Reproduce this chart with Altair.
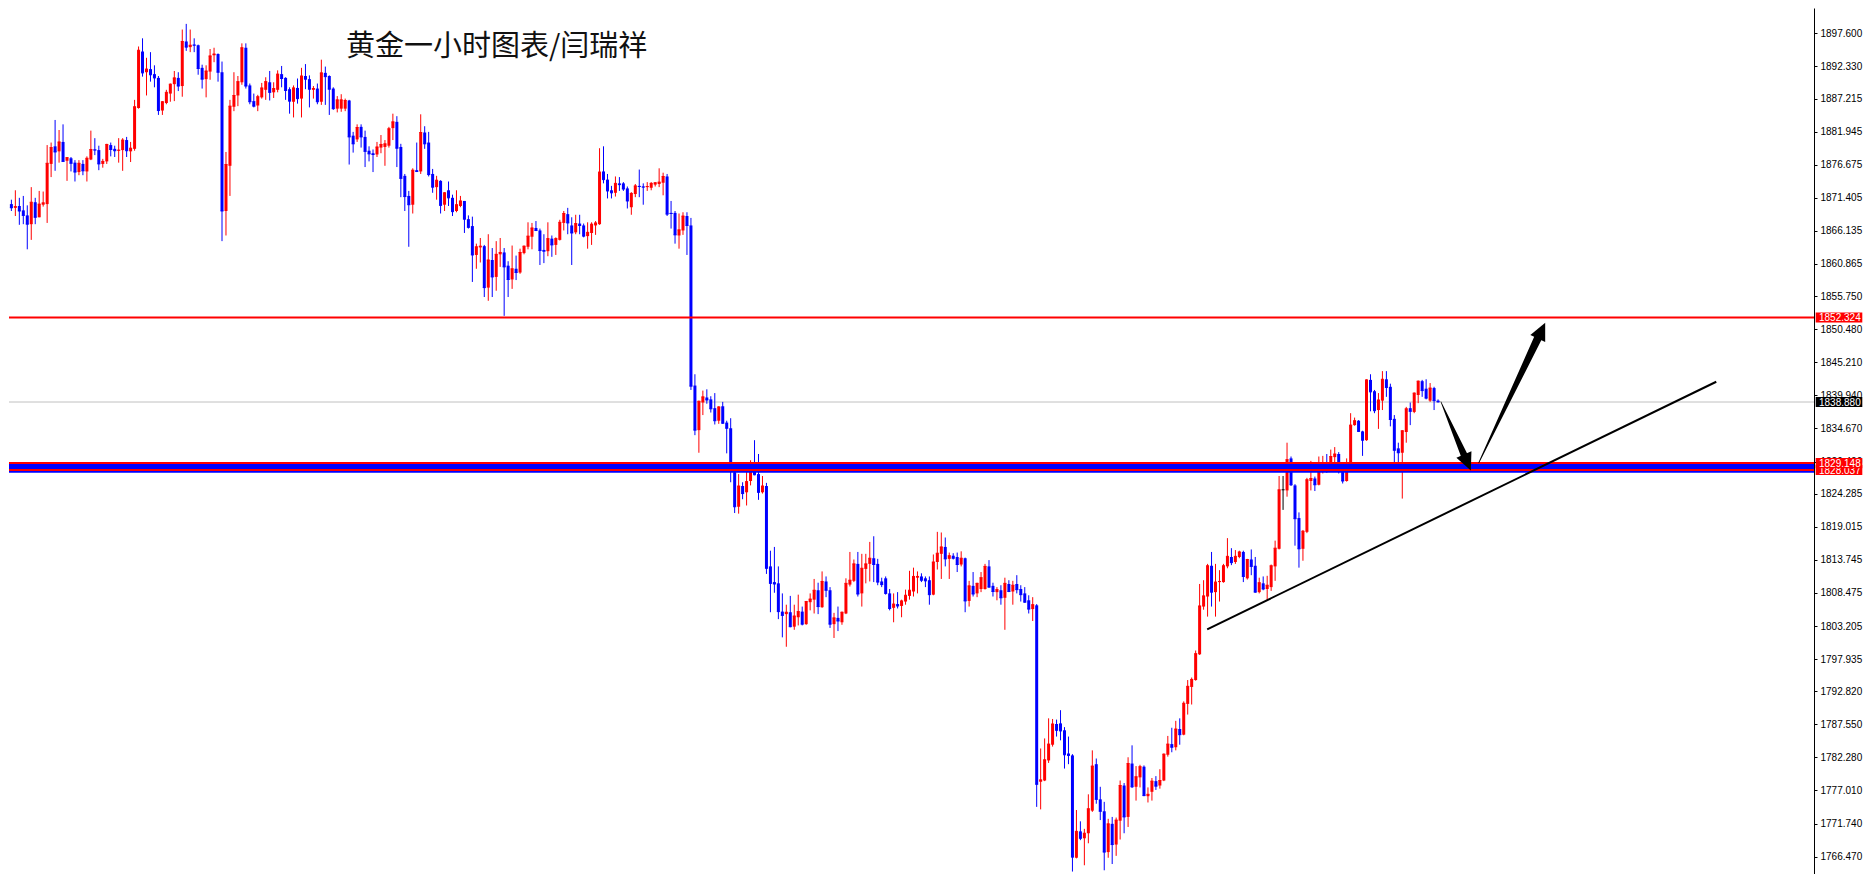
import altair as alt
import pandas as pd

# ---------------- candle data (hourly gold) ----------------
opens = [
    1870.4, 1869.8, 1870.1, 1869.4, 1868.6, 1867.2, 1870.7, 1868.3, 1870.3, 1870.4,
    1876.8, 1879.6, 1878.8, 1880.3, 1877.3, 1877.7, 1877.0, 1875.5, 1876.8, 1875.6,
    1877.5, 1879.1, 1879.0, 1876.8, 1877.2, 1879.8, 1879.2, 1878.9, 1879.0, 1880.6,
    1878.8, 1879.2, 1885.7, 1894.7, 1891.4, 1891.9, 1891.1, 1890.5, 1885.3, 1886.5,
    1888.0, 1889.5, 1890.5, 1889.2, 1896.3, 1895.4, 1895.8, 1895.7, 1892.1, 1890.3,
    1891.5, 1894.1, 1894.3, 1891.4, 1869.3, 1876.5, 1885.9, 1887.7, 1889.8, 1895.3,
    1889.3, 1886.8, 1886.1, 1887.4, 1888.6, 1889.8, 1888.2, 1888.6, 1891.1, 1890.5,
    1888.7, 1886.7, 1888.9, 1887.2, 1890.8, 1890.3, 1888.6, 1888.8, 1886.7, 1891.3,
    1890.8, 1888.8, 1885.6, 1885.6, 1885.6, 1886.9, 1881.3, 1880.7, 1882.7, 1881.1,
    1878.9, 1878.5, 1878.3, 1879.4, 1879.5, 1879.7, 1882.5, 1883.5, 1879.5, 1874.9,
    1871.7, 1870.3, 1875.8, 1875.6, 1881.8, 1880.2, 1875.2, 1873.1, 1874.1, 1870.3,
    1872.6, 1871.4, 1869.3, 1870.1, 1870.9, 1868.0, 1866.9, 1862.3, 1863.5, 1863.7,
    1857.1, 1861.5, 1858.8, 1862.4, 1862.7, 1860.6, 1858.4, 1860.1, 1859.5, 1862.6,
    1863.6, 1865.2, 1866.6, 1866.2, 1863.1, 1862.9, 1864.9, 1863.9, 1864.7, 1867.4,
    1868.8, 1867.0, 1865.9, 1867.3, 1867.0, 1865.3, 1865.8, 1867.0, 1867.2, 1875.6,
    1874.3, 1872.6, 1872.2, 1873.7, 1873.7, 1872.9, 1869.9, 1872.0, 1873.3, 1873.2,
    1873.1, 1873.0, 1873.5, 1873.6, 1873.8, 1874.8, 1869.0, 1869.0, 1865.4, 1866.2,
    1868.5, 1867.0, 1841.5, 1834.4, 1838.8, 1839.6, 1839.3, 1837.9, 1835.9, 1838.2,
    1835.6, 1834.7, 1827.7, 1822.2, 1825.5, 1824.5, 1826.3, 1828.4, 1827.4, 1824.5,
    1825.5, 1812.7, 1810.2, 1810.0, 1805.5, 1805.1, 1805.4, 1803.1, 1804.6, 1805.5,
    1803.5, 1807.0, 1807.4, 1808.9, 1806.2, 1810.3, 1808.9, 1803.5, 1804.5, 1803.8,
    1805.2, 1809.8, 1810.4, 1813.1, 1808.4, 1812.3, 1813.1, 1814.0, 1813.1, 1810.3,
    1810.8, 1808.4, 1806.1, 1806.7, 1806.4, 1807.1, 1808.0, 1808.7, 1810.9, 1811.1,
    1810.8, 1810.5, 1808.2, 1813.4, 1814.7, 1815.8, 1813.9, 1814.4, 1814.2, 1813.0,
    1814.0, 1807.2, 1809.6, 1808.4, 1809.1, 1809.1, 1812.7, 1809.6, 1808.6, 1808.9,
    1807.7, 1809.9, 1808.7, 1809.9, 1809.1, 1808.4, 1807.3, 1805.9, 1806.5, 1778.4,
    1778.6, 1781.8, 1784.3, 1787.6, 1787.7, 1786.6, 1782.9, 1782.6, 1766.3, 1770.5,
    1769.4, 1770.2, 1773.8, 1781.2, 1775.6, 1773.7, 1767.2, 1771.7, 1768.4, 1772.2,
    1777.8, 1772.8, 1781.3, 1777.6, 1779.1, 1780.8, 1776.1, 1776.8, 1778.5, 1777.8,
    1778.6, 1782.7, 1784.4, 1783.9, 1786.8, 1785.9, 1790.8, 1793.5, 1794.6, 1798.7,
    1806.3, 1807.9, 1812.8, 1808.6, 1810.2, 1810.2, 1812.7, 1814.2, 1813.4, 1814.2,
    1815.0, 1810.8, 1813.8, 1812.8, 1808.6, 1810.0, 1809.1, 1809.4, 1812.7, 1815.5,
    1824.9, 1824.8, 1829.9, 1825.6, 1820.4, 1815.5, 1818.2, 1826.3, 1826.7, 1825.7,
    1828.8, 1829.1, 1828.0, 1830.1, 1830.6, 1828.0, 1826.3, 1829.0, 1835.2, 1835.9,
    1834.2, 1832.8, 1842.4, 1840.6, 1837.6, 1839.1, 1842.5, 1841.3, 1836.2, 1831.5,
    1830.8, 1834.1, 1837.9, 1837.3, 1840.0, 1842.2, 1841.0, 1839.1, 1841.1, 1839.1,
]

highs = [
    1871.1, 1872.6, 1871.4, 1871.7, 1870.2, 1873.1, 1871.4, 1872.5, 1872.4, 1879.8,
    1880.2, 1883.8, 1882.2, 1883.1, 1877.9, 1877.9, 1877.4, 1877.4, 1877.4, 1878.0,
    1882.1, 1880.9, 1879.7, 1877.6, 1880.0, 1880.2, 1879.7, 1880.9, 1880.9, 1881.1,
    1880.3, 1887.0, 1895.5, 1896.8, 1893.7, 1894.6, 1892.5, 1890.8, 1886.8, 1888.6,
    1889.6, 1891.6, 1891.4, 1898.2, 1899.1, 1898.2, 1896.8, 1895.8, 1892.6, 1892.5,
    1895.1, 1895.3, 1894.4, 1893.1, 1878.7, 1887.0, 1891.4, 1890.8, 1896.0, 1896.0,
    1889.6, 1888.0, 1887.8, 1889.7, 1890.6, 1891.6, 1889.8, 1891.7, 1892.4, 1890.6,
    1889.0, 1889.3, 1890.4, 1892.1, 1892.7, 1890.9, 1889.2, 1889.6, 1893.4, 1892.3,
    1890.9, 1889.0, 1887.6, 1887.9, 1887.2, 1887.0, 1881.9, 1883.1, 1883.1, 1882.1,
    1879.6, 1879.1, 1880.3, 1881.4, 1880.6, 1882.7, 1884.8, 1884.4, 1880.0, 1875.2,
    1872.5, 1876.1, 1880.2, 1884.7, 1882.8, 1881.9, 1876.0, 1874.9, 1874.2, 1872.3,
    1874.0, 1871.9, 1872.6, 1871.7, 1870.9, 1868.6, 1868.4, 1864.1, 1865.0, 1863.9,
    1865.6, 1863.4, 1864.5, 1865.0, 1863.4, 1861.3, 1863.8, 1862.2, 1863.3, 1863.8,
    1867.5, 1867.4, 1867.7, 1866.5, 1865.6, 1867.5, 1865.4, 1865.1, 1867.9, 1869.3,
    1869.8, 1868.3, 1868.7, 1868.7, 1867.3, 1867.5, 1867.5, 1867.7, 1879.3, 1879.6,
    1875.2, 1873.3, 1874.8, 1874.7, 1873.9, 1873.2, 1872.3, 1873.6, 1875.9, 1873.7,
    1873.9, 1873.9, 1873.9, 1876.1, 1875.4, 1875.2, 1870.9, 1869.3, 1868.9, 1869.1,
    1869.1, 1868.2, 1843.3, 1839.1, 1840.7, 1840.9, 1839.8, 1840.3, 1838.2, 1838.9,
    1835.9, 1836.3, 1829.2, 1827.4, 1826.1, 1829.1, 1829.6, 1832.8, 1830.6, 1827.1,
    1826.0, 1815.2, 1815.8, 1812.7, 1808.4, 1806.6, 1808.0, 1806.6, 1808.2, 1806.3,
    1807.2, 1808.4, 1810.7, 1810.1, 1811.9, 1811.1, 1809.4, 1805.3, 1806.3, 1805.5,
    1810.8, 1815.0, 1813.8, 1815.0, 1814.7, 1814.7, 1816.6, 1817.5, 1813.9, 1810.9,
    1811.1, 1809.1, 1808.4, 1808.6, 1807.4, 1809.0, 1812.0, 1812.5, 1811.9, 1811.6,
    1811.1, 1811.1, 1814.6, 1818.2, 1818.1, 1817.3, 1814.9, 1814.8, 1814.9, 1815.1,
    1814.1, 1810.4, 1811.8, 1810.1, 1811.8, 1813.1, 1813.7, 1810.1, 1809.4, 1809.7,
    1810.9, 1810.5, 1810.4, 1811.3, 1809.7, 1809.4, 1808.1, 1807.8, 1806.7, 1783.7,
    1785.3, 1788.5, 1788.4, 1788.3, 1789.8, 1787.1, 1785.6, 1782.8, 1773.9, 1772.1,
    1770.9, 1776.4, 1783.4, 1782.1, 1777.6, 1775.2, 1772.5, 1772.8, 1772.7, 1778.6,
    1778.2, 1782.3, 1784.2, 1780.9, 1781.1, 1781.0, 1777.5, 1779.0, 1779.3, 1780.4,
    1782.9, 1785.7, 1787.0, 1788.1, 1788.5, 1791.2, 1794.6, 1795.0, 1799.3, 1809.9,
    1810.5, 1813.1, 1815.0, 1813.1, 1812.1, 1813.1, 1817.2, 1815.6, 1815.3, 1815.2,
    1815.2, 1813.9, 1815.4, 1814.2, 1810.9, 1811.1, 1811.2, 1813.0, 1816.8, 1827.1,
    1827.1, 1832.4, 1830.2, 1825.8, 1821.3, 1818.5, 1826.8, 1829.5, 1827.0, 1830.2,
    1830.3, 1830.6, 1831.3, 1831.7, 1830.9, 1829.1, 1829.9, 1837.1, 1836.4, 1836.0,
    1834.3, 1842.5, 1843.3, 1840.8, 1840.3, 1843.8, 1843.8, 1841.8, 1836.8, 1832.4,
    1834.4, 1838.1, 1838.8, 1840.4, 1842.3, 1842.4, 1842.5, 1841.9, 1841.3, 1839.3,
]

lows = [
    1869.3, 1868.5, 1867.1, 1867.2, 1863.2, 1864.7, 1867.2, 1868.3, 1870.0, 1867.4,
    1874.7, 1875.7, 1877.0, 1877.1, 1874.1, 1875.6, 1874.0, 1875.0, 1875.0, 1874.0,
    1877.4, 1878.2, 1875.8, 1876.2, 1876.8, 1878.0, 1877.9, 1877.0, 1875.7, 1877.9,
    1877.1, 1878.9, 1885.6, 1890.7, 1887.7, 1889.9, 1889.0, 1884.6, 1884.6, 1886.3,
    1886.7, 1886.8, 1888.4, 1887.5, 1894.8, 1894.6, 1894.6, 1891.0, 1888.8, 1887.4,
    1890.2, 1893.0, 1889.9, 1864.5, 1865.4, 1871.7, 1885.2, 1886.0, 1889.4, 1888.8,
    1886.3, 1885.8, 1885.2, 1887.2, 1887.0, 1886.9, 1887.3, 1888.2, 1889.0, 1887.0,
    1884.8, 1884.2, 1886.4, 1884.2, 1888.7, 1885.8, 1887.2, 1886.3, 1886.2, 1886.2,
    1884.6, 1885.4, 1885.0, 1885.1, 1885.2, 1876.7, 1878.6, 1880.3, 1879.4, 1876.3,
    1877.2, 1875.5, 1877.9, 1878.5, 1876.5, 1879.4, 1880.6, 1876.3, 1871.5, 1869.3,
    1863.6, 1868.9, 1875.5, 1875.2, 1879.2, 1874.8, 1872.2, 1871.1, 1868.9, 1869.3,
    1870.1, 1868.5, 1869.1, 1869.9, 1865.8, 1866.5, 1858.0, 1860.1, 1861.1, 1855.6,
    1855.0, 1855.6, 1856.6, 1860.4, 1852.6, 1855.6, 1856.9, 1858.3, 1859.3, 1862.4,
    1863.2, 1863.2, 1866.1, 1860.7, 1861.0, 1862.1, 1862.0, 1862.3, 1864.6, 1866.2,
    1865.6, 1860.7, 1865.6, 1865.6, 1865.1, 1863.3, 1863.9, 1865.5, 1867.1, 1873.7,
    1871.3, 1871.3, 1871.6, 1872.5, 1872.5, 1869.7, 1868.7, 1871.5, 1871.5, 1870.3,
    1872.5, 1872.6, 1873.2, 1873.1, 1871.8, 1868.5, 1866.5, 1864.1, 1863.3, 1865.5,
    1862.3, 1840.8, 1833.6, 1830.8, 1836.8, 1838.6, 1837.2, 1835.3, 1835.4, 1835.4,
    1830.7, 1826.1, 1821.2, 1821.1, 1823.4, 1822.4, 1825.6, 1827.2, 1823.3, 1824.3,
    1811.5, 1805.4, 1808.5, 1804.3, 1801.4, 1799.9, 1803.0, 1802.6, 1803.3, 1803.3,
    1803.4, 1805.7, 1805.2, 1805.1, 1806.1, 1807.8, 1802.9, 1801.3, 1802.4, 1803.4,
    1805.1, 1809.5, 1810.2, 1807.9, 1806.3, 1810.0, 1810.3, 1810.2, 1809.7, 1809.4,
    1808.2, 1805.7, 1803.8, 1806.0, 1804.6, 1806.6, 1807.4, 1807.9, 1808.4, 1810.2,
    1809.4, 1806.6, 1808.1, 1812.2, 1810.7, 1812.7, 1810.7, 1813.8, 1811.8, 1812.7,
    1805.4, 1806.3, 1807.9, 1807.8, 1808.6, 1809.0, 1809.3, 1807.9, 1807.3, 1806.6,
    1802.6, 1808.6, 1806.6, 1808.4, 1807.1, 1806.9, 1805.2, 1804.0, 1774.4, 1774.0,
    1778.5, 1781.4, 1784.0, 1785.6, 1785.0, 1780.5, 1781.2, 1764.1, 1766.2, 1769.1,
    1765.1, 1768.6, 1773.6, 1774.9, 1772.3, 1764.3, 1766.3, 1765.3, 1766.6, 1769.2,
    1770.2, 1771.2, 1777.4, 1775.4, 1777.5, 1776.1, 1775.1, 1775.4, 1777.1, 1777.3,
    1778.5, 1782.4, 1783.1, 1783.4, 1784.3, 1785.8, 1789.1, 1790.7, 1794.5, 1798.6,
    1805.8, 1804.7, 1806.3, 1804.7, 1807.1, 1810.1, 1812.4, 1812.9, 1813.1, 1814.0,
    1810.2, 1810.6, 1811.3, 1808.5, 1808.4, 1808.9, 1807.3, 1808.8, 1810.4, 1815.4,
    1821.7, 1823.8, 1825.5, 1816.0, 1812.5, 1813.6, 1818.0, 1824.8, 1824.7, 1825.6,
    1827.5, 1827.6, 1827.8, 1829.2, 1827.5, 1825.9, 1826.2, 1828.8, 1835.1, 1834.1,
    1830.3, 1832.7, 1837.4, 1837.1, 1834.6, 1837.6, 1839.7, 1835.0, 1829.3, 1829.3,
    1823.5, 1832.4, 1835.2, 1837.1, 1838.7, 1839.7, 1839.3, 1838.9, 1837.6, 1838.8,
]

closes = [
    1869.8, 1870.0, 1869.3, 1868.6, 1867.2, 1870.7, 1868.3, 1870.4, 1870.6, 1876.9,
    1879.4, 1878.7, 1880.3, 1877.2, 1877.8, 1876.9, 1875.5, 1876.9, 1875.7, 1877.7,
    1879.1, 1879.0, 1876.8, 1877.2, 1879.9, 1879.1, 1878.9, 1879.0, 1880.6, 1878.9,
    1879.3, 1885.9, 1894.9, 1891.3, 1891.9, 1891.0, 1890.5, 1885.3, 1886.7, 1888.2,
    1889.5, 1890.5, 1889.2, 1896.3, 1895.4, 1895.7, 1895.7, 1892.0, 1890.3, 1891.6,
    1894.0, 1894.3, 1891.4, 1869.3, 1876.7, 1886.0, 1887.7, 1889.9, 1895.3, 1889.2,
    1886.7, 1886.0, 1887.5, 1888.9, 1889.9, 1888.2, 1888.8, 1891.1, 1890.4, 1888.5,
    1886.8, 1888.9, 1887.2, 1890.8, 1890.3, 1888.7, 1888.8, 1886.7, 1891.3, 1890.7,
    1888.7, 1885.6, 1887.0, 1887.0, 1886.9, 1881.1, 1880.0, 1882.6, 1881.1, 1878.8,
    1878.4, 1878.3, 1879.5, 1879.9, 1880.0, 1882.4, 1883.5, 1879.3, 1874.5, 1871.6,
    1870.3, 1875.8, 1875.6, 1881.8, 1880.0, 1875.1, 1873.1, 1874.2, 1870.2, 1872.2,
    1871.4, 1869.2, 1870.3, 1870.9, 1868.0, 1866.7, 1862.3, 1863.6, 1863.7, 1857.1,
    1861.5, 1858.8, 1862.4, 1862.7, 1860.4, 1858.4, 1860.1, 1859.5, 1862.7, 1863.7,
    1865.3, 1866.6, 1866.2, 1863.0, 1862.9, 1864.9, 1863.9, 1864.9, 1867.5, 1868.9,
    1867.4, 1865.8, 1867.3, 1867.0, 1865.3, 1865.9, 1867.2, 1867.4, 1875.5, 1874.3,
    1872.5, 1872.2, 1873.7, 1873.5, 1872.8, 1870.9, 1872.1, 1873.3, 1873.2, 1873.1,
    1873.2, 1873.7, 1873.8, 1873.9, 1874.8, 1868.8, 1868.9, 1865.5, 1866.3, 1868.5,
    1867.0, 1841.4, 1834.4, 1839.0, 1839.7, 1839.2, 1837.8, 1835.9, 1838.1, 1835.5,
    1834.7, 1829.2, 1822.2, 1825.5, 1824.3, 1826.2, 1828.3, 1827.3, 1824.5, 1825.5,
    1812.4, 1810.0, 1809.9, 1805.5, 1804.9, 1805.4, 1803.1, 1804.8, 1805.5, 1803.5,
    1807.1, 1807.5, 1808.9, 1806.3, 1810.3, 1808.9, 1803.5, 1804.5, 1804.0, 1805.4,
    1810.0, 1810.5, 1813.1, 1808.3, 1812.4, 1813.1, 1814.0, 1813.0, 1810.2, 1809.8,
    1808.4, 1806.0, 1806.7, 1806.4, 1807.2, 1808.1, 1808.9, 1811.1, 1811.1, 1810.5,
    1810.4, 1808.2, 1813.4, 1814.8, 1815.8, 1813.9, 1814.4, 1814.0, 1813.0, 1814.0,
    1807.2, 1809.6, 1808.3, 1810.0, 1810.9, 1812.7, 1809.4, 1808.7, 1809.0, 1807.7,
    1810.0, 1808.7, 1809.7, 1809.0, 1808.2, 1807.0, 1805.9, 1806.6, 1778.0, 1778.7,
    1781.9, 1784.4, 1787.6, 1786.6, 1786.5, 1782.7, 1782.6, 1766.4, 1770.5, 1769.4,
    1770.2, 1774.1, 1780.9, 1775.6, 1773.7, 1767.2, 1771.7, 1768.4, 1772.3, 1777.8,
    1772.8, 1781.3, 1777.6, 1779.2, 1780.8, 1776.2, 1776.4, 1778.5, 1777.7, 1778.6,
    1782.8, 1784.4, 1783.9, 1786.8, 1785.9, 1790.9, 1793.6, 1794.7, 1798.8, 1806.4,
    1808.0, 1812.8, 1808.6, 1810.2, 1810.3, 1812.8, 1814.3, 1813.3, 1814.3, 1815.0,
    1811.1, 1813.8, 1812.7, 1808.6, 1810.1, 1809.1, 1809.7, 1812.8, 1815.6, 1824.9,
    1824.9, 1829.7, 1825.7, 1820.3, 1815.5, 1818.3, 1826.5, 1826.7, 1825.7, 1829.1,
    1829.0, 1828.0, 1830.2, 1830.6, 1827.9, 1826.3, 1829.2, 1835.2, 1835.9, 1834.2,
    1832.8, 1842.4, 1840.5, 1837.5, 1839.2, 1842.5, 1841.2, 1836.1, 1831.2, 1830.8,
    1834.3, 1837.8, 1837.4, 1840.3, 1842.2, 1840.7, 1839.5, 1841.1, 1839.1, 1838.9,
]

# ---------------- axis ticks and annotations ----------------
y_ticks = [1897.600, 1892.330, 1887.215, 1881.945, 1876.675, 1871.405, 1866.135,
           1860.865, 1855.750, 1850.480, 1845.210, 1839.940, 1834.670, 1829.400,
           1824.285, 1819.015, 1813.745, 1808.475, 1803.205, 1797.935, 1792.820,
           1787.550, 1782.280, 1777.010, 1771.740, 1766.470]

title_text = "黄金一小时图表/闫瑞祥"
title_pos = [84.2, 1895.4]           # candle index, price

resistance = 1852.324
bid_price = 1838.880
support_hi = 1829.148
support_lo = 1828.037
zone = [1827.62, 1829.32]

trend_i = [300.9, 429.0]
trend_p = [1802.68, 1842.11]

arrow_names = ["down", "down", "up", "up"]
arrow_seq = [0, 1, 0, 1]
arrow_i = [359.7, 365.7, 369.25, 384.32]
arrow_p = [1838.93, 1830.23, 1829.21, 1849.30]
arrow_w = [0.6, 7.0, 0.8, 8.0]

head_i = [366.38, 385.03]
head_p = [1829.25, 1850.25]
head_angle = [156.4, 25.4]

tag_prices = [1852.324, 1838.880, 1828.037]
tag_colors = ["#ff0000", "#000000", "#ff0000"]
top_tag_price = [1829.148]

# ---------------- build chart ----------------
W, H = 1805, 866

n = len(opens)
direction = ["up" if c > o else ("down" if c < o else "doji") for o, c in zip(opens, closes)]
candles = pd.DataFrame({"i": list(range(n)), "open": opens, "high": highs,
                        "low": lows, "close": closes, "dir": direction})

x_scale = alt.Scale(domain=[-0.6, 453.6], nice=False, zero=False)
y_scale = alt.Scale(domain=[1763.71, 1901.63], nice=False, zero=False)
y_axis = alt.Axis(orient="right", values=y_ticks, format=".3f", grid=False, title=None,
                  domainColor="#000000", tickColor="#000000", labelColor="#000000",
                  tickSize=3, labelPadding=3, labelFont="Liberation Sans",
                  labelFontSize=10, labelOverlap=False, labelFlush=False)
color = alt.Color("dir:N", scale=alt.Scale(domain=["up", "down", "doji"],
                                           range=["#ff0000", "#0000ff", "#000000"]),
                  legend=None)


def X(f="i"):
    return alt.X(f"{f}:Q", scale=x_scale, axis=None)


def Y(f):
    return alt.Y(f"{f}:Q", scale=y_scale, axis=y_axis)


base = alt.Chart(candles)

bid_rule = alt.Chart(pd.DataFrame({"p": [bid_price]})).mark_rule(
    color="#c0c0c0", strokeWidth=1).encode(y=Y("p"))

wicks = base.mark_rule(strokeWidth=1).encode(x=X(), y=Y("low"), y2="high:Q", color=color)
bodies = base.mark_rule(strokeWidth=3).encode(x=X(), y=Y("open"), y2="close:Q", color=color)
closes_tick = base.mark_tick(orient="horizontal", size=3, thickness=1, opacity=1).encode(
    x=X(), y=Y("close"), color=color)

zone_rect = alt.Chart(pd.DataFrame({"lo": [zone[0]], "hi": [zone[1]]})).mark_rect(
    color="#0000ff").encode(y=Y("lo"), y2="hi:Q", x=alt.value(0), x2=alt.value(W))

red_rules = alt.Chart(pd.DataFrame({"p": [resistance, support_hi, support_lo]})).mark_rule(
    color="#ff0000", strokeWidth=2).encode(y=Y("p"))

trend = alt.Chart(pd.DataFrame({"i": trend_i, "p": trend_p})).mark_line(
    color="#000000", strokeWidth=2).encode(x=X(), y=Y("p"))

shafts = alt.Chart(pd.DataFrame({"arrow": arrow_names, "seq": arrow_seq, "i": arrow_i,
                                 "p": arrow_p, "w": arrow_w})).mark_trail(color="#000000").encode(
    x=X(), y=Y("p"), size=alt.Size("w:Q", scale=None, legend=None),
    detail="arrow:N", order=alt.Order("seq:Q"))

heads = alt.Chart(pd.DataFrame({"i": head_i, "p": head_p, "ang": head_angle})).mark_point(
    shape="M0,-1L0.95,1L-0.95,1Z", filled=True, color="#000000", opacity=1, size=300,
    strokeWidth=0).encode(x=X(), y=Y("p"), angle=alt.Angle("ang:Q", scale=None))

title = alt.Chart(pd.DataFrame({"i": [title_pos[0]], "p": [title_pos[1]], "t": [title_text]})).mark_text(
    align="left", baseline="middle", font="Noto Sans CJK SC", fontSize=29, color="#111111").encode(
    x=X(), y=Y("p"), text="t:N")

tags_df = pd.DataFrame({"p": tag_prices, "bg": tag_colors,
                        "label": [f"{v:.3f}" for v in tag_prices]})
tag_boxes = alt.Chart(tags_df).transform_calculate(
    top="datum.p + 0.8", bot="datum.p - 0.8").mark_rect().encode(
    y=Y("top"), y2="bot:Q", x=alt.value(W + 1.7), x2=alt.value(W + 48.3),
    color=alt.Color("bg:N", scale=None, legend=None))
tag_texts = alt.Chart(tags_df).mark_text(
    align="left", baseline="middle", font="Liberation Sans", fontSize=10, color="#ffffff", dy=0.5).encode(
    y=Y("p"), x=alt.value(W + 5), text="label:N")

top_df = pd.DataFrame({"p": top_tag_price, "label": [f"{v:.3f}" for v in top_tag_price]})
top_box = alt.Chart(top_df).transform_calculate(
    top="datum.p + 0.8", bot="datum.p - 0.8").mark_rect(color="#ff0000").encode(
    y=Y("top"), y2="bot:Q", x=alt.value(W + 1.7), x2=alt.value(W + 48.3))
top_text = alt.Chart(top_df).mark_text(
    align="left", baseline="middle", font="Liberation Sans", fontSize=10, color="#ffffff", dy=0.5).encode(
    y=Y("p"), x=alt.value(W + 5), text="label:N")

chart = alt.layer(
    bid_rule, wicks, bodies, closes_tick, zone_rect, red_rules, trend, shafts, heads, title,
    tag_boxes, tag_texts, top_box, top_text
).properties(width=W, height=H, padding=0).configure_view(strokeWidth=0)

chart.save("out.html", embed_options={"renderer": "svg", "actions": False})
